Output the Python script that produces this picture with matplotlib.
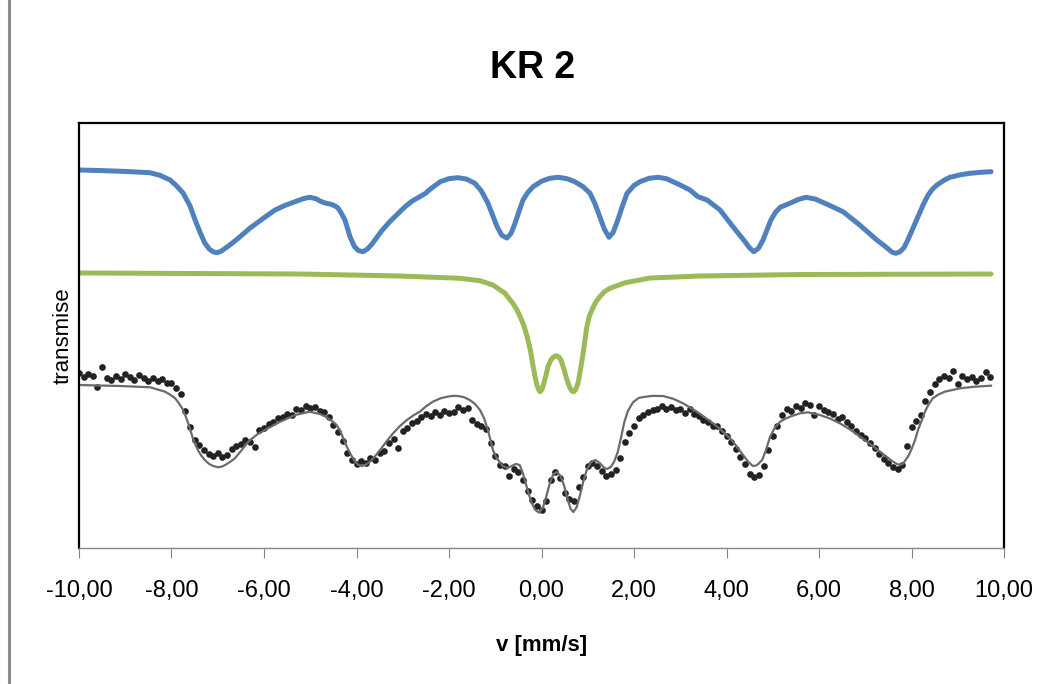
import numpy as np
import matplotlib
matplotlib.use("Agg")
import matplotlib.pyplot as plt

# Relative transmission, arbitrary units (0 = bottom of plot, 100 = top)

# measured spectrum: channels from -10.0 mm/s in steps of 0.1 mm/s
V_START = -10.0
V_STEP = 0.1
measured = [
    41.2, 40.3, 41.0, 40.4, 37.8, 42.6, 40.1, 39.6, 40.5, 39.8,
    40.9, 40.2, 39.5, 40.6, 39.9, 39.3, 40.1, 39.2, 39.7, 38.8,
    38.9, 37.6, 36.2, 32.2, 28.4, 25.3, 24.2, 23.0, 22.2, 21.6,
    22.3, 21.4, 22.0, 23.4, 24.1, 24.4, 25.3, 25.0, 23.8, 27.8,
    28.3, 29.2, 29.6, 30.5, 30.9, 31.6, 31.3, 32.6, 32.4, 33.3,
    32.9, 33.1, 32.3, 31.9, 30.8, 29.0, 27.2, 25.2, 22.4, 20.6,
    19.8, 20.4, 20.1, 21.2, 20.8, 22.4, 22.9, 24.7, 25.6, 23.6,
    27.6, 28.3, 29.4, 29.8, 30.8, 31.5, 31.0, 31.9, 31.2, 32.3,
    31.8, 32.0, 33.1, 32.4, 33.0, 30.2, 29.2, 28.7, 28.1, 24.6,
    21.6, 19.6, 19.2, 17.0, 18.6, 17.9, 16.1, 13.4, 11.2, 9.8,
    9.0, 11.0, 16.0, 18.0, 16.4, 13.0, 11.6, 11.0, 14.4, 16.6,
    19.2, 20.1, 19.4, 18.2, 17.0, 17.4, 18.3, 21.2, 25.0, 27.1,
    28.8, 30.6, 31.2, 31.9, 32.4, 32.7, 33.3, 32.6, 33.2, 32.4,
    32.8, 31.8, 32.6, 31.6, 31.1, 30.2, 29.6, 28.7, 28.6, 27.5,
    26.4, 24.9, 23.4, 21.3, 19.8, 17.5, 16.6, 17.2, 19.3, 23.1,
    26.4, 28.8, 31.4, 32.6, 32.2, 33.4, 33.0, 34.1, 33.6, 31.2,
    33.3, 32.5, 31.9, 31.6, 30.4, 30.9, 29.7, 28.6, 27.5, 26.5,
    25.8, 24.6, 23.6, 22.1, 20.9, 20.1, 19.0, 18.6, 19.6, 24.0,
    28.4, 29.8, 31.2, 34.6, 36.8, 38.6, 39.8, 40.5, 40.1, 41.6,
    38.6, 40.4, 39.7, 40.2, 39.4, 40.0, 41.4, 40.2,
]

# total fit
fit_v = [
    -10.0, -9.11, -8.46, -8.14, -8.03, -7.92, -7.85, -7.77, -7.70, -7.64,
    -7.59, -7.54, -7.48, -7.43, -7.36, -7.28, -7.19, -7.10, -6.99, -6.90,
    -6.84, -6.74, -6.63, -6.50, -6.40, -6.30, -6.15, -5.98, -5.65, -5.33,
    -5.01, -4.79, -4.65, -4.51, -4.43, -4.36, -4.29, -4.21, -4.12, -4.03,
    -3.95, -3.88, -3.80, -3.71, -3.60, -3.49, -3.35, -3.21, -3.06, -2.91,
    -2.77, -2.63, -2.50, -2.35, -2.19, -2.04, -1.92, -1.81, -1.68, -1.55,
    -1.44, -1.33, -1.24, -1.16, -1.10, -1.05, -0.99, -0.94, -0.84, -0.74,
    -0.64, -0.55, -0.47, -0.40, -0.31, -0.22, -0.14, -0.05, 0.03, 0.10,
    0.18, 0.25, 0.33, 0.41, 0.49, 0.57, 0.63, 0.69, 0.76, 0.83,
    0.90, 0.98, 1.07, 1.16, 1.26, 1.35, 1.42, 1.50, 1.57, 1.65,
    1.72, 1.79, 1.87, 1.98, 2.10, 2.19, 2.40, 2.63, 2.85, 3.06,
    3.36, 3.71, 3.90, 4.08, 4.22, 4.36, 4.46, 4.57, 4.64, 4.70,
    4.77, 4.85, 4.94, 5.05, 5.16, 5.27, 5.37, 5.59, 5.76, 6.02,
    6.23, 6.45, 6.67, 6.89, 7.10, 7.32, 7.46, 7.60, 7.68, 7.75,
    7.81, 7.86, 7.94, 8.01, 8.08, 8.14, 8.22, 8.29, 8.37, 8.46,
    8.58, 8.72, 9.05, 9.37, 9.72,
]
fit_t = [
    38.35, 38.12, 37.81, 36.78, 36.10, 35.22, 34.20, 32.87, 31.20, 29.41,
    27.60, 25.88, 24.30, 23.06, 21.80, 20.71, 19.80, 19.29, 18.99, 19.20,
    19.53, 20.20, 21.11, 22.80, 24.20, 25.41, 26.70, 27.76, 29.72, 31.29,
    32.07, 31.53, 30.80, 29.72, 28.90, 27.76, 25.90, 23.84, 21.90, 20.31,
    19.50, 19.29, 19.60, 20.31, 21.60, 23.06, 25.10, 26.99, 28.70, 30.12,
    31.20, 32.07, 33.30, 34.42, 35.20, 35.60, 35.80, 35.76, 35.50, 34.82,
    33.90, 32.47, 30.50, 27.76, 25.30, 23.06, 21.60, 20.71, 19.30, 18.80,
    19.30, 19.80, 19.50, 17.50, 14.00, 10.80, 9.00, 8.31, 9.50, 12.00,
    15.29, 17.20, 17.88, 17.00, 14.60, 11.29, 9.20, 8.47, 9.60, 12.30,
    15.50, 18.40, 20.20, 20.71, 20.00, 18.90, 18.60, 19.10, 20.30, 22.60,
    26.00, 29.60, 32.30, 34.30, 35.30, 35.50, 35.80, 35.76, 35.10, 34.05,
    32.07, 29.34, 27.60, 25.81, 23.90, 21.88, 20.40, 19.29, 19.40, 19.90,
    20.71, 22.90, 26.12, 28.40, 29.72, 30.40, 30.89, 31.69, 31.93, 31.29,
    30.50, 29.34, 27.90, 26.19, 24.50, 22.66, 21.50, 20.31, 19.80, 19.53,
    19.80, 20.50, 21.80, 23.50, 25.50, 27.76, 30.00, 32.07, 33.80, 35.22,
    36.10, 36.78, 37.58, 37.95, 38.19,
]

# magnetic sextet component
sextet_v = [
    -10.0, -9.50, -9.00, -8.47, -8.25, -8.03, -7.90, -7.75, -7.60, -7.49,
    -7.38, -7.28, -7.18, -7.10, -7.02, -6.93, -6.84, -6.74, -6.60, -6.45,
    -6.30, -6.00, -5.76, -5.55, -5.33, -5.15, -5.01, -4.88, -4.78, -4.68,
    -4.56, -4.46, -4.40, -4.34, -4.25, -4.14, -4.05, -3.96, -3.86, -3.77,
    -3.68, -3.60, -3.45, -3.28, -3.10, -2.95, -2.80, -2.63, -2.50, -2.45,
    -2.19, -2.00, -1.81, -1.62, -1.44, -1.30, -1.16, -1.06, -0.96, -0.86,
    -0.75, -0.66, -0.57, -0.48, -0.40, -0.30, -0.18, 0.00, 0.18, 0.36,
    0.55, 0.72, 0.90, 1.05, 1.16, 1.26, 1.36, 1.46, 1.55, 1.65,
    1.75, 1.85, 2.00, 2.13, 2.33, 2.52, 2.70, 2.84, 3.00, 3.21,
    3.38, 3.58, 3.86, 4.14, 4.40, 4.50, 4.59, 4.69, 4.79, 4.88,
    4.96, 5.06, 5.16, 5.37, 5.55, 5.72, 5.92, 6.13, 6.52, 6.88,
    7.25, 7.45, 7.58, 7.66, 7.75, 7.84, 7.92, 8.03, 8.14, 8.25,
    8.36, 8.45, 8.55, 8.70, 8.83, 9.05, 9.26, 9.50, 9.72,
]
sextet_t = [
    88.94, 88.80, 88.60, 88.31, 87.70, 86.59, 85.30, 83.53, 80.50, 77.18,
    74.20, 71.76, 70.30, 69.70, 69.48, 69.80, 70.50, 71.29, 72.50, 73.90,
    75.29, 77.70, 79.53, 80.60, 81.48, 82.20, 82.52, 82.20, 81.60, 81.18,
    80.90, 80.47, 80.00, 79.00, 77.18, 73.25, 71.00, 70.00, 69.72, 70.30,
    71.30, 72.47, 74.70, 76.78, 78.70, 80.31, 81.60, 82.66, 83.50, 84.07,
    86.19, 86.90, 87.13, 86.80, 85.81, 84.00, 81.18, 78.40, 75.60, 73.60,
    72.94, 74.00, 76.47, 79.40, 81.88, 83.60, 85.01, 86.30, 86.99, 87.22,
    86.90, 86.19, 85.00, 83.46, 80.90, 77.95, 75.00, 73.11, 74.30, 77.18,
    80.50, 83.46, 85.30, 86.19, 87.00, 87.22, 86.90, 86.19, 85.40, 84.24,
    82.66, 81.88, 79.53, 75.60, 72.07, 70.60, 69.72, 70.50, 72.47, 75.00,
    77.18, 79.00, 80.16, 81.11, 82.00, 82.52, 82.10, 81.11, 79.13, 76.00,
    72.47, 70.80, 69.60, 69.34, 69.70, 70.70, 72.47, 75.20, 77.95, 80.70,
    83.06, 84.40, 85.41, 86.50, 87.22, 87.80, 88.16, 88.40, 88.54,
]

# paramagnetic doublet component
doublet_v = [
    -10.0, -5.22, -3.06, -1.76, -1.33, -1.05, -0.79, -0.62, -0.54, -0.46,
    -0.38, -0.31, -0.24, -0.18, -0.14, -0.10, -0.06, -0.03, 0.01, 0.05,
    0.10, 0.14, 0.20, 0.25, 0.30, 0.34, 0.38, 0.42, 0.48, 0.53,
    0.58, 0.62, 0.66, 0.70, 0.74, 0.79, 0.84, 0.90, 0.94, 0.98,
    1.03, 1.09, 1.17, 1.26, 1.36, 1.48, 1.81, 2.35, 3.43, 5.59,
    9.72,
]
doublet_t = [
    64.71, 64.47, 64.00, 63.46, 62.89, 61.88, 59.93, 57.58, 56.20, 54.42,
    52.30, 49.72, 46.50, 42.66, 40.30, 38.35, 37.20, 36.78, 37.30, 38.75,
    40.80, 42.66, 44.20, 44.87, 45.20, 45.20, 44.90, 44.24, 42.30, 40.31,
    38.60, 37.58, 36.90, 36.78, 37.30, 38.80, 41.80, 45.81, 49.00, 52.07,
    54.40, 56.00, 57.80, 59.13, 60.30, 61.11, 62.42, 63.53, 64.00, 64.35,
    64.47,
]

XTICKS = [-10, -8, -6, -4, -2, 0, 2, 4, 6, 8, 10]
XTICK_LABELS = [("%.2f" % t).replace(".", ",") for t in XTICKS]

SANS = ["Liberation Sans", "DejaVu Sans"]

velocity = V_START + V_STEP * np.arange(len(measured))

fig = plt.figure(figsize=(10.53, 6.84), dpi=100)
ax = fig.add_axes([79 / 1053, 1 - 548 / 684, 925 / 1053, 425 / 684])

ax.plot(sextet_v, sextet_t, color="#4F81BD", lw=3.6,
        solid_joinstyle="round", solid_capstyle="round")
ax.plot(doublet_v, doublet_t, color="#9BBB59", lw=3.6,
        solid_joinstyle="round", solid_capstyle="round")
ax.plot(velocity, measured, "o", color="#222222", ms=4.8, mew=0)
ax.plot(fit_v, fit_t, color="#6b6b6b", lw=1.6, solid_joinstyle="round")

ax.set_xlim(-10, 10)
ax.set_ylim(0, 100)
ax.set_xticks(XTICKS)
ax.set_xticklabels(XTICK_LABELS, family=SANS, fontsize=17)
ax.set_yticks([])
ax.tick_params(axis="x", direction="out", length=7, width=0.8,
               color="#868686", pad=16)

for side in ("top", "left", "right"):
    ax.spines[side].set_color("black")
    ax.spines[side].set_linewidth(1.6)
ax.spines["bottom"].set_color("#868686")
ax.spines["bottom"].set_linewidth(1.0)

ax.set_xlabel("v [mm/s]", family=SANS, fontsize=16, fontweight="bold",
              labelpad=24)
ax.set_ylabel("transmise", family=SANS, fontsize=16, labelpad=4)
fig.text(533 / 1053, 1 - 68 / 684, "KR 2", family=SANS, fontsize=27,
         fontweight="bold", ha="center", va="center")

# outer frame line on the left edge
fig.add_artist(plt.Line2D([9 / 1053, 9 / 1053], [0, 1], color="#8c8c8c",
                          lw=2.2, transform=fig.transFigure))

fig.savefig("out.png", dpi=100)
